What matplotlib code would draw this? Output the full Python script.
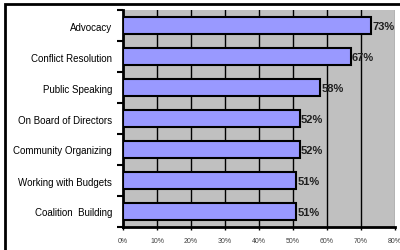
import matplotlib.pyplot as plt
import matplotlib.patches as patches
import numpy as np

# data
skills = ["Advocacy", "Conflict Resolution", "Public Speaking",
          "On Board of Directors", "Community Organizing",
          "Working with Budgets", "Coalition  Building"]
pct = [73, 67, 58, 52, 52, 51, 51]
xticks = [0, 10, 20, 30, 40, 50, 60, 70, 80]

plt.rcParams['font.family'] = ['Liberation Sans', 'DejaVu Sans']

fig = plt.figure(figsize=(4, 2.51), dpi=100)
ax = fig.add_axes([123 / 400, 1 - 228 / 251, 272 / 400, 217 / 251])

# outer chart border (only top/left visible in the crop)
fig.patches.append(patches.Rectangle((5 / 400, -0.2), 1.2, 1 - 5 / 251 + 0.2,
                                     transform=fig.transFigure, fill=False,
                                     edgecolor='black', linewidth=2))

ax.set_facecolor('#C0C0C0')
ypos = np.arange(len(skills))
for x in xticks[1:-1]:
    ax.axvline(x, color='black', linewidth=1, zorder=1)
ax.axvline(80, color='#808080', linewidth=1, zorder=1)

ax.barh(ypos, pct, height=0.52, color='#9999FF', edgecolor='black',
        linewidth=1.5, zorder=3)
for y, v in zip(ypos, pct):
    ax.text(v + 0.3, y + 0.03, f"{v}%", va='center', ha='left', fontsize=8,
            fontweight='bold', color='#202020', zorder=4)

ax.set_xlim(0, 80)
ax.set_ylim(len(skills) - 0.5, -0.5)
ax.set_xticks(xticks)
ax.set_xticklabels([f"{x}%" for x in xticks], fontsize=5, color='#404040')
ax.set_yticks(np.arange(len(skills) + 1) - 0.5)
ax.set_yticklabels([])
ax.set_yticks(ypos, minor=True)
ax.set_yticklabels(skills, minor=True, fontsize=7)
ax.tick_params(axis='y', which='minor', length=0, pad=8)
ax.tick_params(axis='y', which='major', length=4, width=1.5, direction='out')
ax.tick_params(axis='x', length=2, width=1, pad=5)

for s in ['top', 'right']:
    ax.spines[s].set_visible(False)
ax.spines['left'].set_linewidth(2)
ax.spines['bottom'].set_linewidth(2)

fig.savefig('out.png', dpi=100)
